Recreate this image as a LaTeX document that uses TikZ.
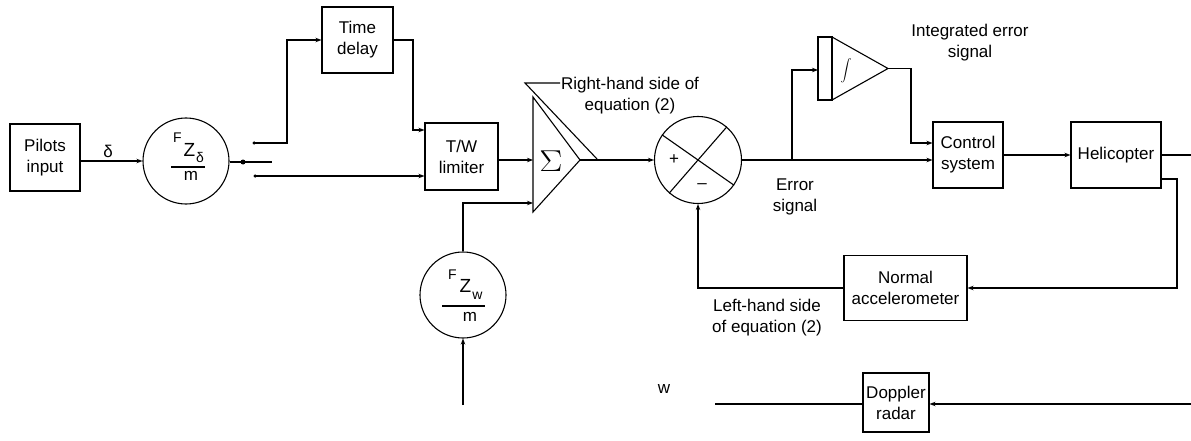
\documentclass[tikz,border=0pt]{standalone}
\usepackage{fontspec}
\usepackage{graphicx}
\setmainfont{Liberation Sans}
\usetikzlibrary{arrows.meta,calc}
\begin{document}
\begin{tikzpicture}[x=1pt,y=-1pt,line width=1.1pt,
  font=\fontsize{17}{21}\selectfont,
  >={Stealth[length=6pt,width=4.5pt]},
  blk/.style={draw,rectangle,align=center,inner sep=0pt},
  gain/.style={draw,circle,minimum size=86pt,inner sep=0pt},
  lbl/.style={align=center,inner sep=0pt},
  supF/.style={inner sep=0pt,font=\fontsize{14}{14}\selectfont},
  bigZ/.style={inner sep=0pt,font=\fontsize{19}{19}\selectfont},
  subs/.style={inner sep=0pt,font=\fontsize{14}{14}\selectfont},
  jdot/.style={circle,fill,inner sep=0pt,minimum size=5pt},
  tdot/.style={circle,fill,inner sep=0pt,minimum size=3.5pt}]
\useasboundingbox (0,0) rectangle (1191,441);

% blocks
\node[blk,minimum width=70pt,minimum height=67pt] (pilot) at (45,157.5) {Pilots\\input};
\node[gain] (fd) at (186,161) {};
\node[supF] (fdF) at (177.5,138) {F};
\node[bigZ] (fdZ) at (189.5,150) {Z};
\node[subs] (fdd) at (200,157) {δ};
\draw (171,167) -- (205,167);
\node[lbl] (fdm) at (191,175.5) {m};

\node[blk,minimum width=71pt,minimum height=66pt] (delay) at (357.5,40) {Time\\delay};
\node[blk,minimum width=73pt,minimum height=67pt] (tw) at (461.5,156.5) {T/W\\limiter};

% summing amplifier (triangle)
\draw (533,97) -- (580,160) -- (533,212) -- cycle;
\coordinate (sigin1) at (533,160);
\coordinate (sigin2) at (533,203);
\coordinate (sigout) at (580,160);
\node[inner sep=0pt] (sig) at (551,161) {\scalebox{2}[1.75]{$\Sigma$}};

\node[gain] (fw) at (463,295) {};
\node[supF] (fwF) at (452.5,275) {F};
\node[bigZ] (fwZ) at (465.5,285.5) {Z};
\node[subs] (fww) at (477.5,295.5) {w};
\draw (442,306) -- (485,306);
\node[lbl] (fwm) at (470,316.5) {m};

% comparator
\node[draw,circle,minimum size=87pt,inner sep=0pt] (sum) at (698,160) {};
\draw (sum.145) -- (sum.-35);
\draw (sum.49) -- (sum.229);
\node[lbl] (plus) at (674,160) {+};
\node[lbl] (minus) at (702,186) {–};

% integrator
\draw (818,37) rectangle (832,100);
\draw (832,37) -- (888,68.5) -- (832,100) -- cycle;
\coordinate (intin) at (818,70);
\coordinate (intout) at (888,68.5);
\node[inner sep=0pt] (integ) at (846,71) {\scalebox{1.1}{$\displaystyle\int$}};

\node[blk,minimum width=70pt,minimum height=66pt] (ctrl) at (968,155) {Control\\system};
\node[blk,minimum width=90pt,minimum height=66pt] (heli) at (1116,155) {Helicopter};
\node[blk,minimum width=123pt,minimum height=65pt] (acc) at (905.5,288) {Normal\\accelerometer};
\node[blk,minimum width=66pt,minimum height=59pt] (dop) at (896,402.5) {Doppler\\radar};

% labels
\node[lbl] (delta) at (108,151) {δ};
\node[lbl] (rhs) at (630,96) {Right-hand side of\\equation (2)};
\node[lbl] (lhs) at (767,318) {Left-hand side\\of equation (2)};
\node[lbl] (err) at (795,197) {Error\\signal};
\node[lbl] (ierr) at (970,43) {Integrated error\\signal};
\node[lbl] (wlab) at (664,389) {w};

% switch
\coordinate (piv) at (243,162);
\coordinate (blade) at (272,162);
\node[tdot] (ctup) at (254,143) {};
\node[tdot] (ctlo) at (255,176) {};
\node[jdot] at (piv) {};

% connectors
\draw[->] (pilot.east |- fd) -- (fd);
\draw (fd.east |- blade) -- (blade);
\draw[->] (ctup.center) -- (287,143) -- (287,40) -- (delay.west);
\draw[->] (delay.east) -- (413,40) -- (413,130) -- (tw.west |- 0,130);
\draw[->] (ctlo.center) -- (tw.west |- 0,176);
\draw[->] (tw.east |- sigin1) -- (sigin1);
\draw[->] (fw.north) -- (463,203) -- (sigin2);
\coordinate (win) at (463,405);
\draw[->] (win) -- (fw.south);
\draw[->] (sigout) -- (sum.west);
\draw (560,83) -- (525,83) -- (597,159);
\coordinate (ebr) at (792,160);
\draw (sum.east) -- (ebr);
\draw[->] (ebr) -- (792,70) -- (intin);
\draw[->] (ebr) -- (ctrl.west |- ebr);
\draw[->] (intout) -- (911,68.5) -- (911,143) -- (ctrl.west |- 0,143);
\draw[->] (ctrl.east) -- (heli.west);
\coordinate (hout) at (1191,155);
\draw (heli.east) -- (hout);
\draw[->] (heli.east |- 0,179) -- (1177,179) -- (1177,288) -- (acc.east);
\draw[->] (acc.west) -- (698,288) -- (sum.south);
\coordinate (dopin) at (1191,404);
\draw[->] (dopin) -- (dop.east |- dopin);
\coordinate (wout) at (715,404);
\draw (dop.west |- wout) -- (wout);
\end{tikzpicture}
\end{document}
